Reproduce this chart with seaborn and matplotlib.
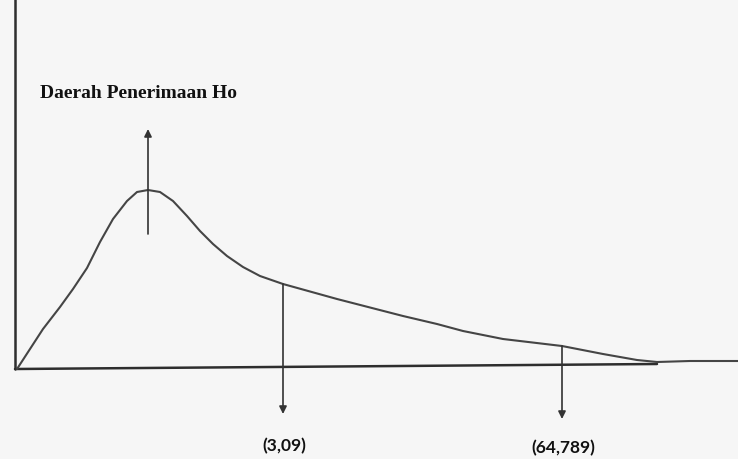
import matplotlib
matplotlib.use('Agg')
import matplotlib.pyplot as plt
import seaborn as sns
import pandas as pd

# curve (arbitrary units)
curve_x = [0.2, 2.8, 4.5, 5.8, 7.2, 8.5, 9.8, 11.2, 12.2, 13.3, 14.5, 15.8,
           17.2, 18.5, 19.8, 21.2, 22.8, 24.5, 26.8, 32.2, 38.8, 42.2, 44.8,
           48.8, 54.7, 58.8, 62.2, 64.2, 67.5, 72.3]
curve_y = [0.02, 0.42, 0.64, 0.82, 1.03, 1.29, 1.52, 1.70, 1.79, 1.81, 1.79, 1.70,
           1.55, 1.40, 1.27, 1.15, 1.04, 0.95, 0.87, 0.72, 0.55, 0.47, 0.40,
           0.32, 0.25, 0.17, 0.11, 0.09, 0.10, 0.10]

# critical values marked on the curve
crit_x = [26.8, 54.7]
crit_y = [0.87, 0.25]
crit_labels = ['(3,09)', '(64,789)']
mode_x = 13.3
region_label = 'Daerah Penerimaan Ho'

sns.set_style('white')
fig = plt.figure(figsize=(7.38, 4.6), dpi=100)
fig.patch.set_facecolor('#f6f6f6')
ax = fig.add_axes([0, 0, 1, 1])
ax.set_facecolor('#f6f6f6')
ax.set_xlim(-1.5, 72.3)
ax.set_ylim(-0.88, 3.72)
ax.axis('off')

line_col = '#454545'
axis_col = '#2e2e2e'

# axes drawn like the sketch
ax.plot([0, 0], [0.02, 3.72], color=axis_col, lw=1.8)
ax.plot([0, 64.2], [0.02, 0.07], color=axis_col, lw=1.8)

df = pd.DataFrame({'x': curve_x, 'y': curve_y})
sns.lineplot(data=df, x='x', y='y', ax=ax, color=line_col, lw=1.5, sort=False)

arrow = dict(arrowstyle='-|>', color='#333333', lw=1.2, mutation_scale=11,
             shrinkA=0, shrinkB=0)

# acceptance region arrow (up from the peak)
ax.annotate('', xy=(mode_x, 2.42), xytext=(mode_x, 1.37), arrowprops=arrow)
ax.text(2.5, 2.79, region_label, fontsize=14, fontweight='bold',
        family='Liberation Serif', color='#111111', va='center', ha='left')

# critical value arrows
ends = [-0.43, -0.48]
label_y = [-0.74, -0.76]
for cx, cy, lab, e, ly in zip(crit_x, crit_y, crit_labels, ends, label_y):
    ax.annotate('', xy=(cx, e), xytext=(cx, cy), arrowprops=arrow)
    ax.text(cx + 0.1, ly, lab, fontsize=12.5, fontweight='bold',
            family='Lato', color='#111111', ha='center', va='center')

fig.savefig('out.png', dpi=100, facecolor=fig.get_facecolor())
